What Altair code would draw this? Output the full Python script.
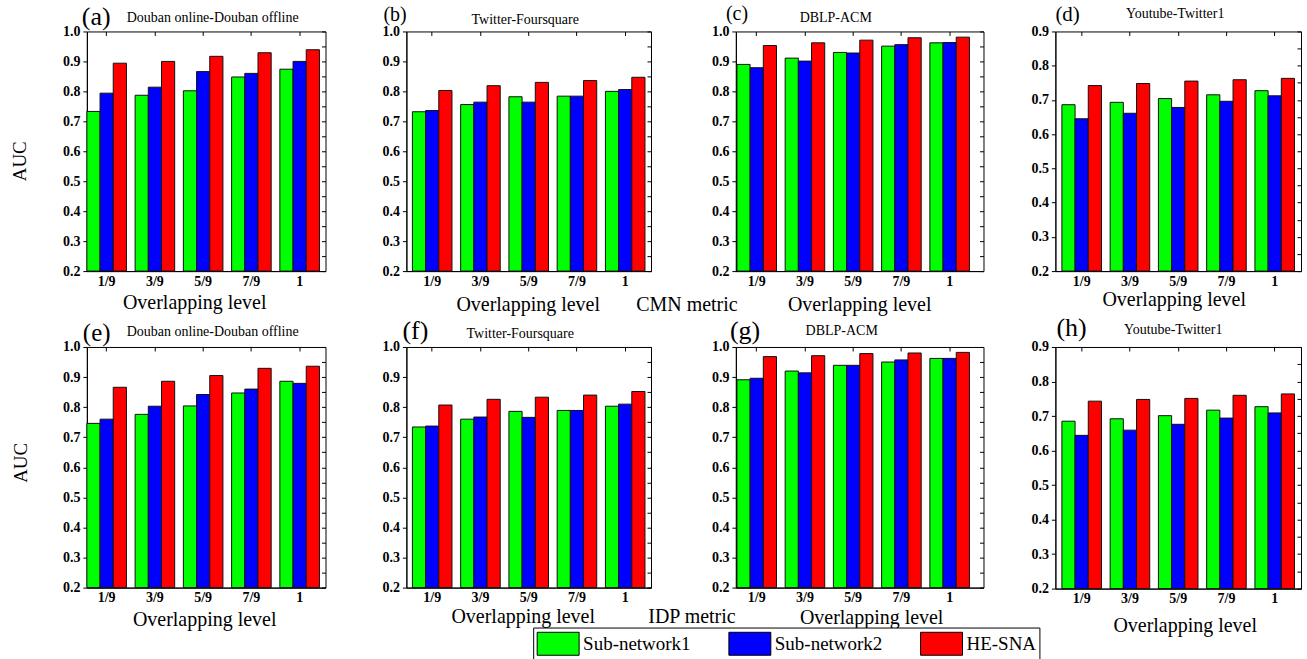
import altair as alt
import pandas as pd

FONT = "Liberation Serif"

levels = ["1/9", "3/9", "5/9", "7/9", "1"]
series = ["Sub-network1", "Sub-network2", "HE-SNA"]
colors = ["#00ff00", "#0000ff", "#ff0000"]

# (a) CMN metric, Douban online-Douban offline
a_sub1 = [0.733, 0.787, 0.802, 0.848, 0.874]
a_sub2 = [0.794, 0.814, 0.866, 0.860, 0.900]
a_hesna = [0.894, 0.900, 0.917, 0.929, 0.939]
# (b) CMN metric, Twitter-Foursquare
b_sub1 = [0.732, 0.756, 0.782, 0.784, 0.800]
b_sub2 = [0.736, 0.764, 0.764, 0.784, 0.806]
b_hesna = [0.803, 0.819, 0.830, 0.836, 0.847]
# (c) CMN metric, DBLP-ACM
c_sub1 = [0.890, 0.911, 0.930, 0.951, 0.962]
c_sub2 = [0.879, 0.901, 0.928, 0.956, 0.963]
c_hesna = [0.953, 0.962, 0.971, 0.979, 0.981]
# (d) CMN metric, Youtube-Twitter1
d_sub1 = [0.686, 0.693, 0.704, 0.715, 0.727]
d_sub2 = [0.645, 0.661, 0.678, 0.696, 0.712]
d_hesna = [0.742, 0.748, 0.755, 0.759, 0.763]
# (e) IDP metric, Douban online-Douban offline
e_sub1 = [0.746, 0.776, 0.804, 0.847, 0.886]
e_sub2 = [0.760, 0.803, 0.842, 0.860, 0.879]
e_hesna = [0.866, 0.886, 0.905, 0.929, 0.936]
# (f) IDP metric, Twitter-Foursquare
f_sub1 = [0.734, 0.760, 0.786, 0.789, 0.803]
f_sub2 = [0.737, 0.767, 0.766, 0.789, 0.810]
f_hesna = [0.807, 0.826, 0.833, 0.840, 0.852]
# (g) IDP metric, DBLP-ACM
g_sub1 = [0.891, 0.920, 0.939, 0.950, 0.962]
g_sub2 = [0.896, 0.914, 0.939, 0.957, 0.962]
g_hesna = [0.968, 0.971, 0.978, 0.980, 0.982]
# (h) IDP metric, Youtube-Twitter1
h_sub1 = [0.685, 0.692, 0.701, 0.717, 0.727]
h_sub2 = [0.644, 0.659, 0.676, 0.694, 0.709]
h_hesna = [0.743, 0.748, 0.751, 0.760, 0.764]

LEGEND = alt.Legend(
    title=None, orient="none", legendX=447, legendY=597, direction="horizontal",
    symbolType="M-1.68,-0.92H1.68V0.92H-1.68Z", symbolSize=625, symbolOffset=9,
    symbolStrokeColor="black", symbolStrokeWidth=1, symbolOpacity=1,
    labelFont=FONT, labelFontSize=19, labelColor="black", labelOffset=12,
    columnPadding=36, strokeColor="black", fillColor="white", padding=3,
    gridAlign="all",
)


def txt(s, x, y, size, align="center", angle=0):
    return alt.Chart(pd.DataFrame({"t": [s]})).mark_text(
        font=FONT, fontSize=size, align=align, baseline="alphabetic",
        angle=angle, color="black",
    ).encode(x=alt.value(x), y=alt.value(y), text="t:N")


def panel(vals, ymax, width, height, pad_outer, band_align, texts):
    s1, s2, s3 = vals
    df = pd.DataFrame({
        "level": levels * 3,
        "series": [series[0]] * 5 + [series[1]] * 5 + [series[2]] * 5,
        "value": s1 + s2 + s3,
    })
    n = int(round((ymax - 0.2) * 10))
    yticks = [round(0.2 + 0.1 * i, 1) for i in range(n + 1)]
    yminor = [round(0.2 + 0.05 * i, 2) for i in range(2 * n + 1)]
    yscale = alt.Scale(domain=[0.2, ymax], nice=False, zero=False)
    xscale = alt.Scale(domain=levels, paddingInner=0.18, paddingOuter=pad_outer, align=band_align)
    base = alt.Chart(df)
    bars = base.mark_bar(stroke="#111111", strokeWidth=1).encode(
        x=alt.X("level:N", scale=xscale, title=None,
                axis=alt.Axis(orient="bottom", labelAngle=0, ticks=False, labelPadding=3)),
        xOffset=alt.XOffset("series:N", scale=alt.Scale(domain=series, paddingInner=0, paddingOuter=0)),
        y=alt.Y("value:Q", scale=yscale, title=None,
                axis=alt.Axis(orient="left", values=yticks, format=".1f", tickSize=4, labelPadding=3)),
        y2=alt.datum(0.2),
        color=alt.Color("series:N", scale=alt.Scale(domain=series, range=colors), legend=LEGEND),
    )
    mirror = base.mark_bar(opacity=0).encode(
        x=alt.X("level:N", scale=xscale, title=None,
                axis=alt.Axis(orient="top", labels=False, domain=False, tickSize=4, offset=-4)),
        y=alt.Y("value:Q", scale=yscale, title=None,
                axis=alt.Axis(orient="right", values=yminor, labels=False, domain=False, tickSize=4, offset=-4)),
        y2=alt.datum(0.2),
    )
    layers = [bars, mirror] + [txt(*t) for t in texts]
    return alt.layer(*layers).properties(width=width, height=height)


def spacer(w, h):
    return alt.Chart(pd.DataFrame({"t": [""]})).mark_text(opacity=0).encode(
        x=alt.value(0), y=alt.value(0), text="t:N"
    ).properties(width=w, height=h, view=alt.ViewBackground(stroke="transparent"))


pa = panel((a_sub1, a_sub2, a_hesna), 1.0, 239, 240, 0.063, 0.0, [
    ("(a)", -5, -6, 26, "left"),
    ("Douban online-Douban offline", 126, -9, 14),
    ("Overlapping level", 108, 278, 20),
    ("AUC", -61, 130, 19, "center", 270),
])
pb = panel((b_sub1, b_sub2, b_hesna), 1.0, 245, 240, 0.125, 0.5, [
    ("(b)", -23, -10, 20, "left"),
    ("Twitter-Foursquare", 119, -7, 14),
    ("Overlapping level", 122, 280, 20),
    ("CMN metric", 281, 280, 20),
])
pc = panel((c_sub1, c_sub2, c_hesna), 1.0, 248, 240, 0.157, 0.07, [
    ("(c)", -10, -11, 20, "left"),
    ("DBLP-ACM", 100, -9, 14),
    ("Overlapping level", 124, 280, 20),
])
pd_ = panel((d_sub1, d_sub2, d_hesna), 0.9, 246, 240, 0.135, 0.5, [
    ("(d)", 0, -10, 21, "left"),
    ("Youtube-Twitter1", 120, -13, 14),
    ("Overlapping level", 119, 275, 20),
])
pe = panel((e_sub1, e_sub2, e_hesna), 1.0, 239, 241, 0.063, 0.0, [
    ("(e)", -4, -6, 25, "left"),
    ("Douban online-Douban offline", 126, -11, 14),
    ("Overlapping level", 118, 279, 20),
    ("AUC", -60, 116, 19, "center", 270),
])
pf = panel((f_sub1, f_sub2, f_hesna), 1.0, 245, 241, 0.125, 0.5, [
    ("(f)", -4, -8, 26, "left"),
    ("Twitter-Foursquare", 114, -9, 14),
    ("Overlapping level", 117, 276, 20),
    ("IDP metric", 286, 276, 20),
])
pg = panel((g_sub1, g_sub2, g_hesna), 1.0, 248, 241, 0.157, 0.07, [
    ("(g)", -6, -8, 26, "left"),
    ("DBLP-ACM", 106, -12, 14),
    ("Overlapping level", 136, 277, 20),
])
ph = panel((h_sub1, h_sub2, h_hesna), 0.9, 246, 242, 0.135, 0.5, [
    ("(h)", 1, -11, 26, "left"),
    ("Youtube-Twitter1", 118, -13, 14),
    ("Overlapping level", 130, 285, 20),
])

chart = alt.concat(
    pa, spacer(81, 240), pb, spacer(85, 240), pc, spacer(72, 240), pd_,
    pe, spacer(81, 241), pf, spacer(85, 241), pg, spacer(72, 241), ph,
    columns=7, spacing={"row": 76, "column": 0}, bounds="flush", align="each",
).properties(
    padding={"left": 10, "top": 3, "right": 5, "bottom": 1},
    background="white",
).configure_view(
    stroke="black", strokeWidth=1,
).configure_axis(
    labelFont=FONT, labelFontWeight="bold", labelFontSize=14, labelColor="black",
    domainColor="black", tickColor="black", grid=False, domainWidth=1, tickWidth=1,
)

chart.save("out.html", embed_options={"renderer": "svg", "actions": False})
